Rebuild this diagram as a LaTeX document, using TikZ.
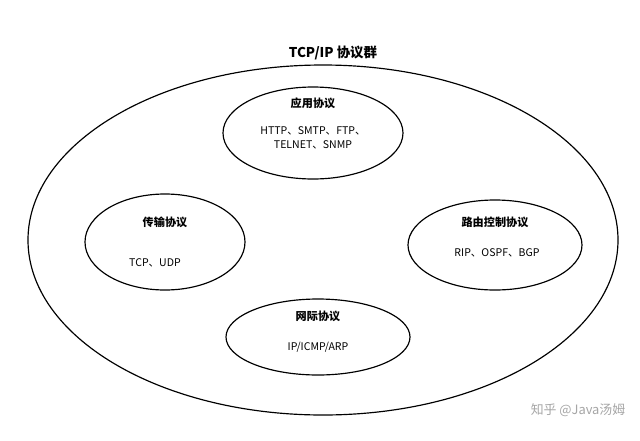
\documentclass[tikz,border=0pt]{standalone}
\usepackage{fontspec}
\setmainfont{Noto Sans CJK SC}
\usetikzlibrary{shapes.geometric}
\begin{document}
\begin{tikzpicture}[x=0.03cm,y=-0.03cm,
  ell/.style={draw,line width=1pt},
  ttl/.style={font=\bfseries\fontsize{9.5}{11}\selectfont},
  txt/.style={font=\fontsize{9}{12}\selectfont,align=center}]
\useasboundingbox[fill=white] (0,0) rectangle (640,440);
\draw[ell] (323,240) ellipse [x radius=295, y radius=175];
\node[font=\bfseries\fontsize{11.5}{13}\selectfont] (t) at (333,53) {TCP/IP 协议群};
\draw[ell] (313,133) ellipse [x radius=90, y radius=46];
\node[ttl] (a1) at (313,103) {应用协议};
\node[txt] (a2) at (313,138) {HTTP、SMTP、FTP、\\TELNET、SNMP};
\draw[ell] (165,242) ellipse [x radius=80, y radius=48];
\node[ttl] (b1) at (165,222) {传输协议};
\node[txt] (b2) at (155,263) {TCP、UDP};
\draw[ell] (495,245) ellipse [x radius=87, y radius=45];
\node[ttl] (c1) at (495,222) {路由控制协议};
\node[txt] (c2) at (497,253) {RIP、OSPF、BGP};
\draw[ell] (318,337) ellipse [x radius=92, y radius=38];
\node[ttl] (d1) at (318,316) {网际协议};
\node[txt] (d2) at (318,347) {IP/ICMP/ARP};
\node[font=\fontsize{11}{13}\selectfont,text=gray!70] (w) at (578,410) {知乎 @Java汤姆};
\end{tikzpicture}
\end{document}
